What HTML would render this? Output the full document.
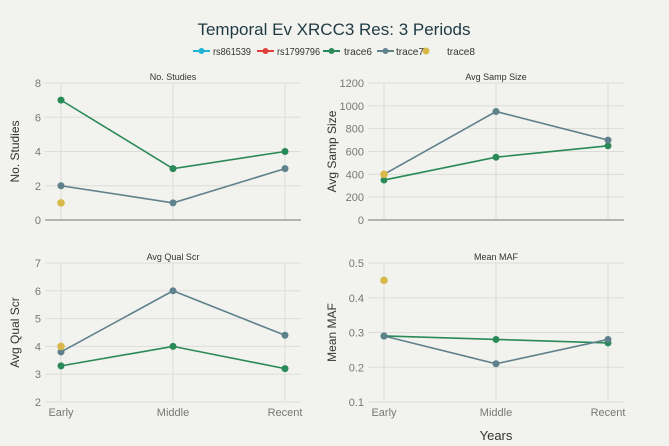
<!DOCTYPE html>
<html><head><meta charset="utf-8"><style>
body{margin:0;background:#f2f2ee;}
svg{display:block;font-family:"Liberation Sans",sans-serif;}
</style></head><body>
<svg id="chart" width="669" height="446">
<rect width="669" height="446" fill="#f2f2ee"/>
<text x="334" y="35" text-anchor="middle" font-size="17" fill="#1f3a44">Temporal Ev XRCC3 Res: 3 Periods</text>
<g id="legend" font-size="10.5" fill="#333">
<g><line x1="193" y1="51" x2="210" y2="51" stroke="#1fb4d4" stroke-width="2"/><circle cx="201.5" cy="51" r="3" fill="#1fb4d4"/><text x="213" y="55" textLength="38" lengthAdjust="spacingAndGlyphs">rs861539</text></g>
<g><line x1="257" y1="51" x2="274" y2="51" stroke="#e0403a" stroke-width="2"/><circle cx="265.5" cy="51" r="3" fill="#e0403a"/><text x="277" y="55" textLength="43" lengthAdjust="spacingAndGlyphs">rs1799796</text></g>
<g><line x1="323" y1="51" x2="340" y2="51" stroke="#2a8a57" stroke-width="2"/><circle cx="331.5" cy="51" r="3" fill="#2a8a57"/><text x="344" y="55" textLength="28" lengthAdjust="spacingAndGlyphs">trace6</text></g>
<g><line x1="377" y1="51" x2="394" y2="51" stroke="#5f818c" stroke-width="2"/><circle cx="385.5" cy="51" r="3" fill="#5f818c"/><text x="396" y="55" textLength="28" lengthAdjust="spacingAndGlyphs">trace7</text></g>
<g><circle cx="426" cy="51" r="3.5" fill="#d8b84a"/><text x="447" y="55" textLength="28" lengthAdjust="spacingAndGlyphs">trace8</text></g>
</g>
<text x="496" y="440" text-anchor="middle" font-size="13" fill="#333">Years</text>
</svg>
<script>
const categories = ["Early","Middle","Recent"];
const studiesTrace6 = [7,3,4];
const studiesTrace7 = [2,1,3];
const studiesTrace8 = [1];
const sizeTrace6 = [350,550,650];
const sizeTrace7 = [400,950,700];
const sizeTrace8 = [400];
const qualTrace6 = [3.3,4,3.2];
const qualTrace7 = [3.8,6,4.4];
const qualTrace8 = [4];
const mafTrace6 = [0.29,0.28,0.27];
const mafTrace7 = [0.29,0.21,0.28];
const mafTrace8 = [0.45];
const studiesTicks = [0,2,4,6,8];
const sizeTicks = [0,200,400,600,800,1000,1200];
const qualTicks = [2,3,4,5,6,7];
const mafTicks = [0.1,0.2,0.3,0.4,0.5];

const svg = document.getElementById('chart');
const NS = 'http://www.w3.org/2000/svg';
function mk(tag, attrs){const e=document.createElementNS(NS,tag);for(const k in attrs)e.setAttribute(k,attrs[k]);svg.appendChild(e);return e;}

const panels = [
 {name:'studies',title:'No. Studies',ytitle:'No. Studies',x0:45,x1:301,xs:[61,173,285],yTop:83,yBot:220,min:0,max:8,ticks:studiesTicks,s6:studiesTrace6,s7:studiesTrace7,s8:studiesTrace8,axisLine:true,xlabels:false,ytx:14,tt:76},
 {name:'size',title:'Avg Samp Size',ytitle:'Avg Samp Size',x0:368,x1:624,xs:[384,496,608],yTop:83,yBot:220,min:0,max:1200,ticks:sizeTicks,s6:sizeTrace6,s7:sizeTrace7,s8:sizeTrace8,axisLine:true,xlabels:false,ytx:331,tt:76},
 {name:'quality',title:'Avg Qual Scr',ytitle:'Avg Qual Scr',x0:45,x1:301,xs:[61,173,285],yTop:263,yBot:402,min:2,max:7,ticks:qualTicks,s6:qualTrace6,s7:qualTrace7,s8:qualTrace8,axisLine:false,xlabels:true,ytx:14,tt:256},
 {name:'maf',title:'Mean MAF',ytitle:'Mean MAF',x0:368,x1:624,xs:[384,496,608],yTop:263,yBot:402,min:0.1,max:0.5,ticks:mafTicks,s6:mafTrace6,s7:mafTrace7,s8:mafTrace8,axisLine:false,xlabels:true,ytx:331,tt:256}
];
panels.forEach(p=>{
  const y = v => p.yBot - (v-p.min)/(p.max-p.min)*(p.yBot-p.yTop);
  const x = i => p.xs[i];
  categories.forEach((c,i)=>{
    const g=mk('line',{x1:x(i),x2:x(i),y1:p.yTop,y2:p.yBot,stroke:'#dcdcd8','stroke-width':1});
    
    
    if(p.xlabels){
      const t=mk('text',{x:x(i),y:p.yBot+14,'text-anchor':'middle','font-size':11,fill:'#777'});
      t.textContent=c;
      
      
    }
  });
  p.ticks.forEach(v=>{
    if(!(p.axisLine && v===p.min)){
      const g=mk('line',{x1:p.x0,x2:p.x1,y1:y(v),y2:y(v),stroke:'#dcdcd8','stroke-width':1});
      
      
    }
    const t=mk('text',{x:p.x0-4,y:y(v)+4,'text-anchor':'end','font-size':11,fill:'#777'});
    t.textContent=String(v);
    
    
  });
  if(p.axisLine){
    const a=mk('line',{x1:p.x0,x2:p.x1,y1:p.yBot,y2:p.yBot,stroke:'#777','stroke-width':1});
    
    
  }
  const tt=mk('text',{x:(p.x0+p.x1)/2,y:p.tt+4,'text-anchor':'middle','font-size':9,fill:'#333'});
  tt.textContent=p.title;
  
  
  const cy=(p.yTop+p.yBot)/2;
  const yt=mk('text',{x:p.ytx+5,y:cy,'text-anchor':'middle','font-size':12,fill:'#333',transform:`rotate(-90 ${p.ytx+5} ${cy})`});
  yt.textContent=p.ytitle;
  
  
  [[p.s6,'#2a8a57','trace6'],[p.s7,'#5f818c','trace7']].forEach(([s,col,nm])=>{
    const pl=mk('polyline',{points:s.map((v,i)=>x(i)+','+y(v)).join(' '),fill:'none',stroke:col,'stroke-width':1.6});
    
    
    s.forEach((v,i)=>{
      const c=mk('circle',{cx:x(i),cy:y(v),r:3.5,fill:col});
      
      
    });
  });
  p.s8.forEach((v,i)=>{
    const c=mk('circle',{cx:x(i),cy:y(v),r:3.8,fill:'#d8b84a'});
    
    
  });
});
</script>
</body></html>
